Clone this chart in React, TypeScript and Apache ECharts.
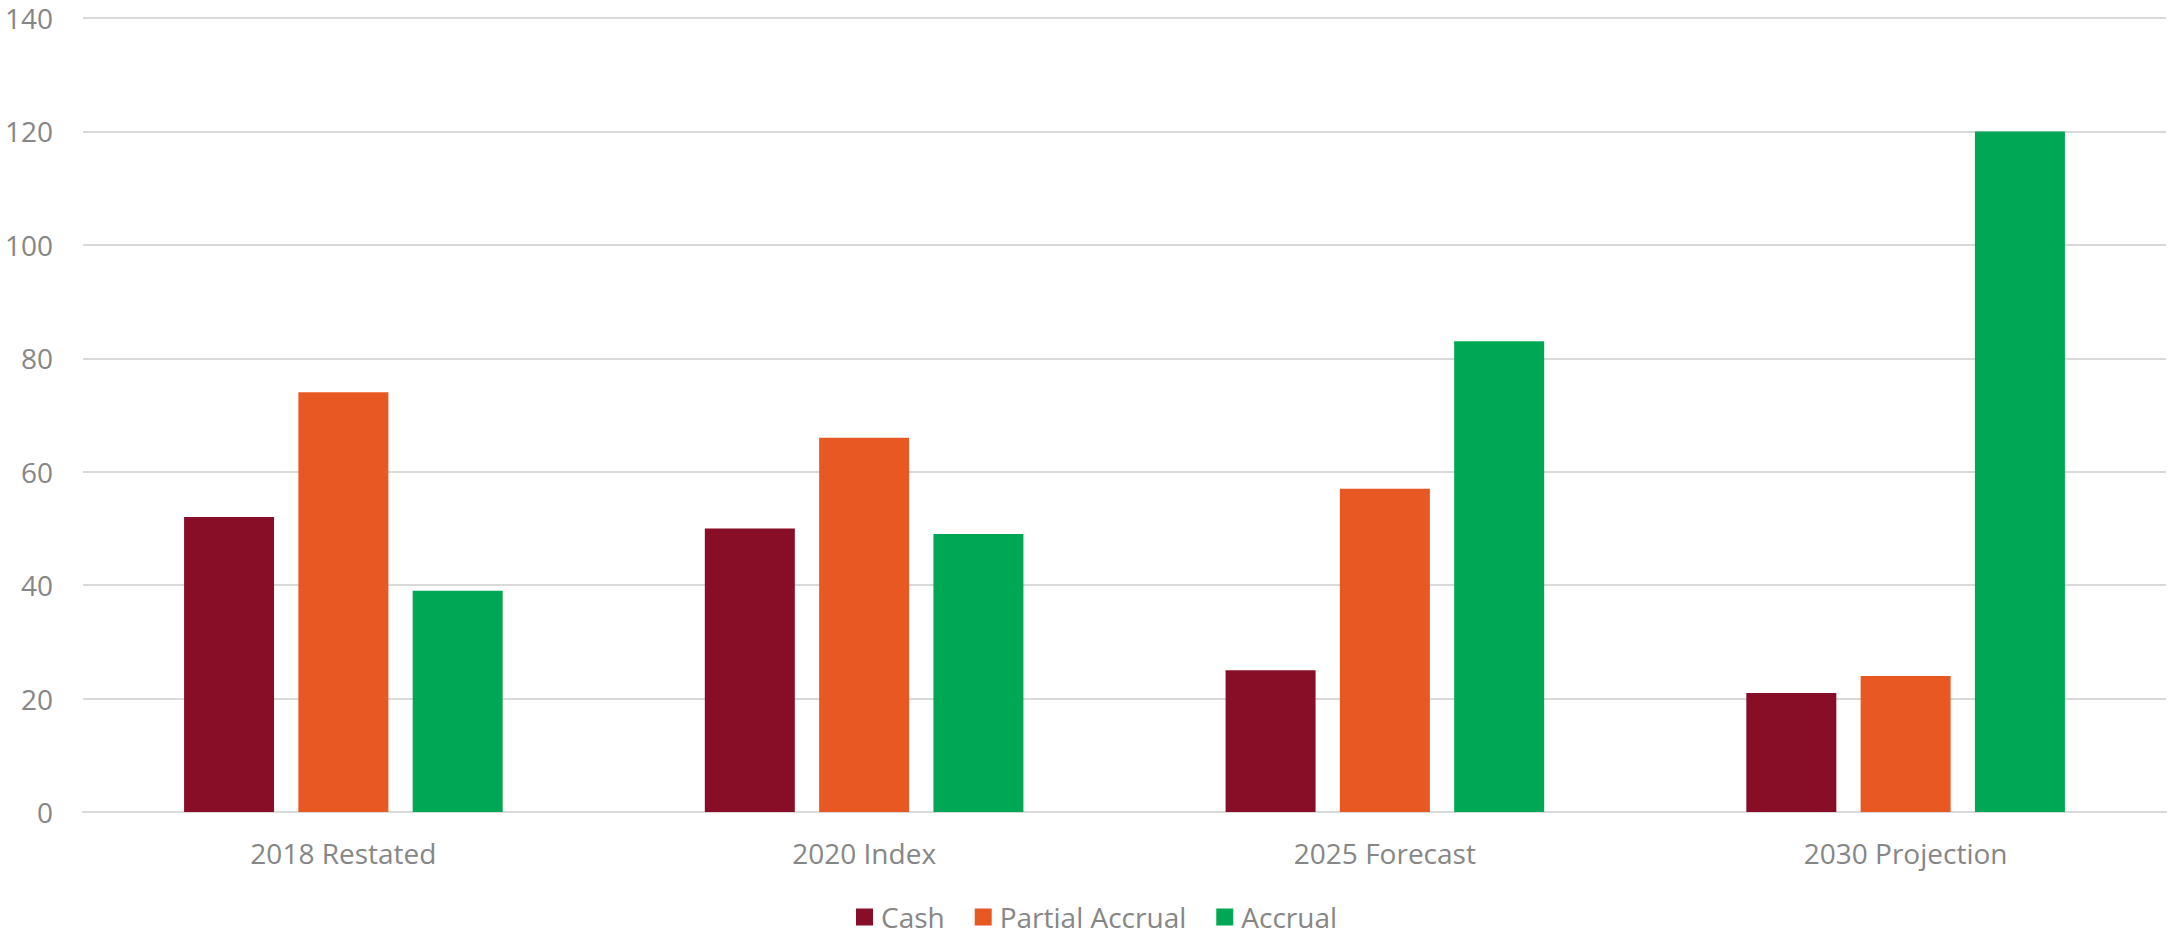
import React, { useEffect, useRef } from "react";
import * as echarts from "echarts";

const categories = ["2018 Restated", "2020 Index", "2025 Forecast", "2030 Projection"];
const cashValues = [52, 50, 25, 21];
const partialAccrualValues = [74, 66, 57, 24];
const accrualValues = [39, 49, 83, 120];
const seriesNames = ["Cash", "Partial Accrual", "Accrual"];
const colors = ["#880E28", "#E85822", "#00A855"];

export default function App() {
  const ref = useRef<HTMLDivElement>(null);
  useEffect(() => {
    if (!ref.current) return;
    const chart = echarts.init(ref.current, null, { renderer: "svg" });
    const font = "'Open Sans', sans-serif";
    const textColor = "#868686";
    const data = [cashValues, partialAccrualValues, accrualValues];
    chart.setOption({
      animation: false,
      textStyle: { fontFamily: font },
      grid: { left: 83, right: 2, top: 18, bottom: 126, containLabel: false },
      legend: {
        data: seriesNames,
        left: 856,
        top: 903,
        padding: 0,
        itemWidth: 17,
        itemHeight: 17,
        itemGap: 30,
        icon: "rect",
        textStyle: { color: textColor, fontSize: 28, fontFamily: font, padding: [0, 0, 0, 3] },
      },
      xAxis: {
        type: "category",
        data: categories,
        axisLine: { show: true, lineStyle: { color: "#D9D9D9", width: 2 } },
        axisTick: { show: false },
        axisLabel: { color: textColor, fontSize: 28, margin: 27, fontFamily: font },
      },
      yAxis: {
        type: "value",
        min: 0,
        max: 140,
        interval: 20,
        axisLine: { show: false },
        axisTick: { show: false },
        axisLabel: { color: textColor, fontSize: 28, margin: 30, fontFamily: font },
        splitLine: { lineStyle: { color: "#D9D9D9", width: 2 } },
      },
      series: seriesNames.map((name, i) => ({
        name,
        type: "bar",
        data: data[i],
        barWidth: 90,
        barGap: "27%",
        itemStyle: { color: colors[i] },
      })),
    });
    return () => chart.dispose();
  }, []);
  return (
    <div
      ref={ref}
      style={{ position: "fixed", left: 0, top: 0, width: 2168, height: 938, background: "#fff" }}
    />
  );
}
